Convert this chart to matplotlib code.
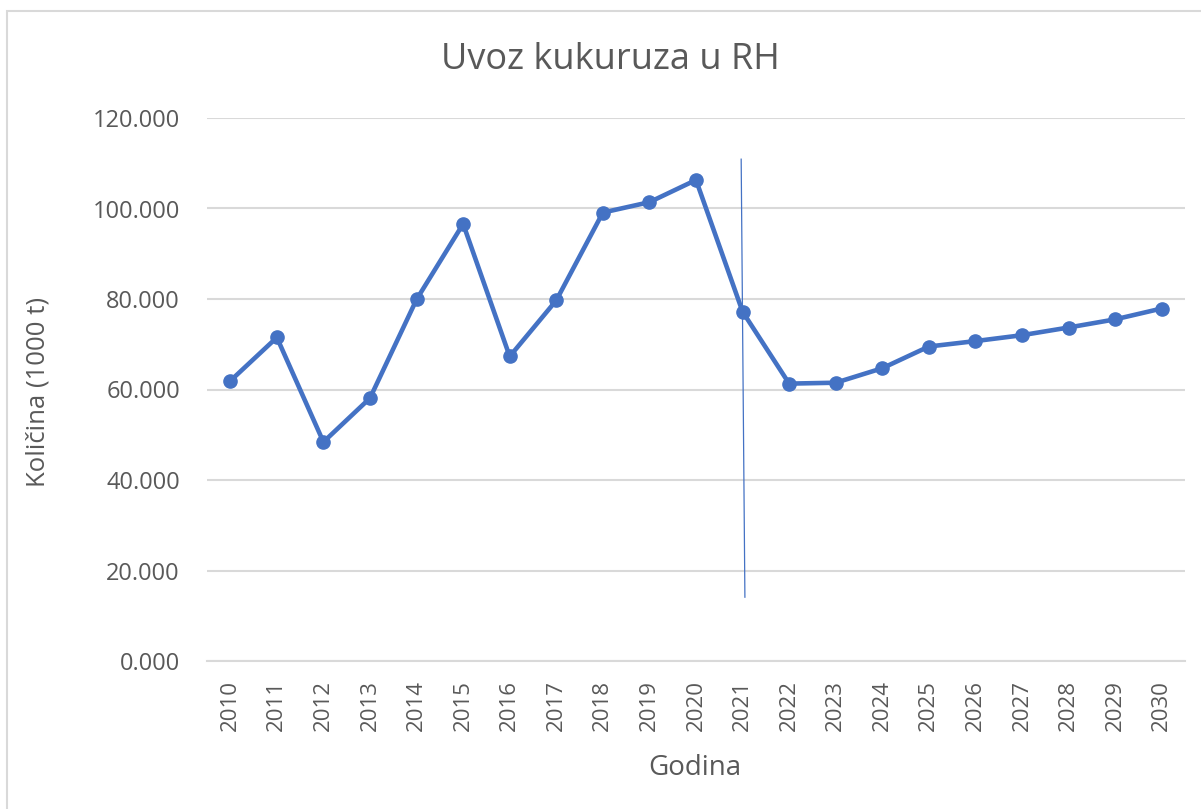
import matplotlib
matplotlib.use("Agg")
import matplotlib.pyplot as plt
from matplotlib.patches import Rectangle

years = [str(y) for y in range(2010, 2031)]
values = [61.9, 71.5, 48.4, 58.1, 79.9, 96.6, 67.3, 79.7, 99.1, 101.4, 106.3,
          77.2, 61.3, 61.5, 64.7, 69.5, 70.7, 72.0, 73.7, 75.5, 77.9]
yticks = [0, 20, 40, 60, 80, 100, 120]
title = "Uvoz kukuruza u RH"
xlabel = "Godina"
ylabel = "Količina (1000 t)"
# vertical marker line near 2021
vline_x = [10.97, 11.05]
vline_y = [110.9, 14.1]

W, H = 1201, 809
fig = plt.figure(figsize=(W / 100, H / 100), dpi=100)
plt.rcParams['font.family'] = ['Open Sans', 'DejaVu Sans']

# outer chart border (left and top visible)
fig.patches.append(Rectangle((7 / W, -0.1), 1.2, 1 - 11 / H + 0.1, transform=fig.transFigure,
                             fill=False, edgecolor='#D9D9D9', linewidth=1.5))

left, right, top, bottom = 207, 1185, 118, 661
ax = fig.add_axes([left / W, 1 - bottom / H, (right - left) / W, (bottom - top) / H])

x = list(range(len(years)))
ax.plot(x, values, color='#4472C4', linewidth=3.3, marker='o', markersize=9.5,
        solid_capstyle='round', solid_joinstyle='round', zorder=3)
ax.plot(vline_x, vline_y, color='#4472C4', linewidth=0.9, zorder=4)

ax.set_xlim(-0.5, len(years) - 0.5)
ax.set_ylim(0, 120)
ax.set_yticks(yticks)
ax.set_yticklabels([f"{v:.3f}" for v in yticks])
ax.set_xticks(x)
ax.set_xticklabels(years, rotation=90)
ax.grid(axis='y', color='#D9D9D9', linewidth=1.5)
ax.set_axisbelow(True)
for s in ['left', 'right', 'top']:
    ax.spines[s].set_visible(False)
ax.spines['bottom'].set_color('#D9D9D9')
ax.spines['bottom'].set_linewidth(1.5)
ax.tick_params(axis='both', length=0, colors='#595959')
ax.tick_params(axis='y', pad=19.5, labelsize=17)
ax.tick_params(axis='x', pad=14, labelsize=16)

fig.text(610 / W, 1 - 60 / H, title, ha='center', va='center', fontsize=26, color='#595959')
fig.text(695 / W, 1 - 768 / H, xlabel, ha='center', va='center', fontsize=20, color='#595959')
fig.text(38 / W, 1 - 392 / H, ylabel, ha='center', va='center', rotation=90, fontsize=18.5, color='#595959')

fig.savefig("out.png", dpi=100)
